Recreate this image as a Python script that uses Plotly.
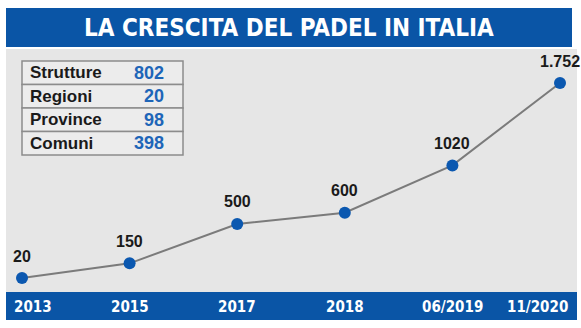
import plotly.graph_objects as go

# ---- data ----
periods = ["2013", "2015", "2017", "2018", "06/2019", "11/2020"]
strutture = [20, 150, 500, 600, 1020, 1752]
value_labels = ["20", "150", "500", "600", "1020", "1.752"]
title_text = "LA CRESCITA DEL PADEL IN ITALIA"
table_names = ["Strutture", "Regioni", "Province", "Comuni"]
table_values = [802, 20, 98, 398]

W, H = 581, 328
BLUE = "#0a55a6"
DOT = "#0b58b0"
PANEL = "#e6e6e6"
NUM_BLUE = "#1d65b8"
NARROW = "Liberation Sans Narrow, DejaVu Sans Condensed, sans-serif"
SANS = "Liberation Sans, Arial, sans-serif"


def px(x):
    return x / W


def py(y):
    return 1 - y / H


fig = go.Figure()
fig.add_trace(go.Scatter(
    x=periods, y=strutture, mode="lines+markers",
    line=dict(color="#7b7b7b", width=2),
    marker=dict(color=DOT, size=12),
    hoverinfo="skip", showlegend=False,
))

shapes = [
    # title banner
    dict(type="rect", xref="paper", yref="paper", x0=px(6), x1=px(572), y0=py(47), y1=py(8),
         fillcolor=BLUE, line=dict(width=0), layer="below"),
    # grey panel
    dict(type="rect", xref="paper", yref="paper", x0=px(6), x1=px(577), y0=py(292), y1=py(49),
         fillcolor=PANEL, line=dict(width=0), layer="below"),
    # bottom band
    dict(type="rect", xref="paper", yref="paper", x0=px(6), x1=px(577), y0=py(320), y1=py(292),
         fillcolor=BLUE, line=dict(width=0), layer="below"),
]

annotations = [
    dict(text=f"<b>{title_text}</b>", xref="paper", yref="paper", x=px(289), y=py(28),
         showarrow=False, font=dict(family=NARROW, size=24, color="white"),
         xanchor="center", yanchor="middle"),
]

# table
top, rh = 61, 23.5
for i, (name, val) in enumerate(zip(table_names, table_values)):
    y0 = top + i * rh
    y1 = y0 + rh
    shapes.append(dict(type="rect", xref="paper", yref="paper", x0=px(22), x1=px(183),
                       y0=py(y1), y1=py(y0), fillcolor="#ececec",
                       line=dict(color="#8c8c8c", width=1.5), layer="below"))
    annotations.append(dict(text=f"<b>{name}</b>", xref="paper", yref="paper",
                            x=px(28), y=py((y0 + y1) / 2), showarrow=False,
                            xanchor="left", yanchor="middle",
                            font=dict(family=SANS, size=17, color="#1a1a1a")))
    annotations.append(dict(text=f"<b>{val}</b>", xref="paper", yref="paper",
                            x=px(166), y=py((y0 + y1) / 2), showarrow=False,
                            xanchor="right", yanchor="middle",
                            font=dict(family=SANS, size=18, color=NUM_BLUE)))

# value labels (x given as category index)
for i, (v, lab) in enumerate(zip(strutture, value_labels)):
    annotations.append(dict(text=f"<b>{lab}</b>", x=i, y=v, xref="x", yref="y",
                            showarrow=False, yshift=22, xanchor="center", yanchor="middle",
                            font=dict(family=SANS, size=16, color="#1a1a1a")))

# period labels in the bottom band
n = len(periods)
for i, p in enumerate(periods):
    if i == 0:
        xa, xs = "left", -10
    elif i == n - 1:
        xa, xs = "right", 10
    else:
        xa, xs = "center", 0
    annotations.append(dict(text=f"<b>{p}</b>", x=i, xref="x", yref="paper", y=py(306.5),
                            showarrow=False, xanchor=xa, xshift=xs, yanchor="middle",
                            font=dict(family=NARROW, size=15, color="white")))

# axis ranges so that the first/last points land where the reference has them
ppu = (560 - 22) / (n - 1)
x_range = [-22 / ppu, (n - 1) + (W - 560) / ppu]
vpp = (strutture[-1] - strutture[0]) / (278 - 83)
y_range = [strutture[0] - (H - 278) * vpp, strutture[0] + 278 * vpp]

fig.update_layout(
    width=W, height=H,
    margin=dict(l=0, r=0, t=0, b=0),
    paper_bgcolor="white", plot_bgcolor="rgba(0,0,0,0)",
    xaxis=dict(type="category", range=x_range, visible=False, fixedrange=True),
    yaxis=dict(range=y_range, visible=False, fixedrange=True),
    shapes=shapes, annotations=annotations,
    showlegend=False,
)

fig.write_html("out.html", config={"displayModeBar": False})
